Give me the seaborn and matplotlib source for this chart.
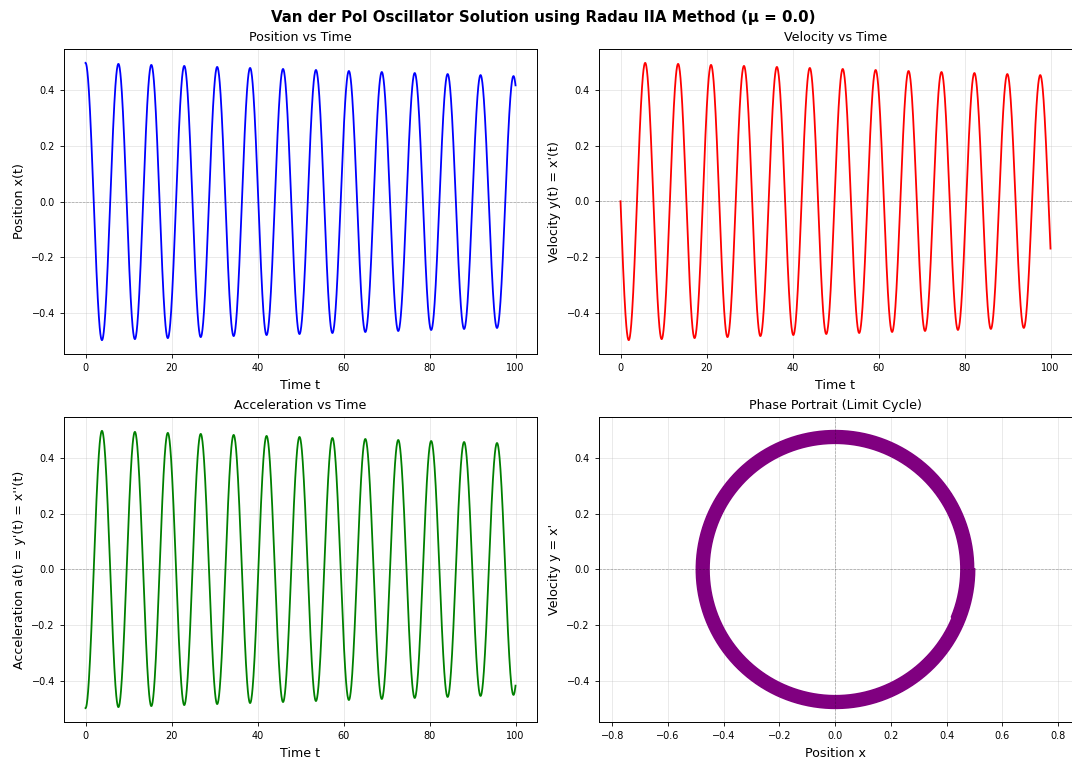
import numpy as np
import pandas as pd
import matplotlib
matplotlib.use("Agg")
import matplotlib.pyplot as plt
import seaborn as sns

# ---- values ----
# times (t) of the successive maxima of x(t) and their heights
peak_times = [0.0, 7.67, 15.35, 22.95, 30.62, 38.29, 45.89, 53.57,
              61.16, 68.84, 76.51, 84.19, 91.86, 99.53]
peak_values = [0.500, 0.496, 0.492, 0.489, 0.485, 0.480, 0.477, 0.473,
               0.469, 0.466, 0.462, 0.460, 0.456, 0.453]
t_range = [0.0, 100.0]
mu_value = 0.0

# ---- build the sampled solution from the read values ----
t = np.linspace(t_range[0], t_range[1], 2000)
n_cycles = len(peak_times) - 1
omega = 2 * np.pi * n_cycles / (peak_times[-1] - peak_times[0])
env = np.polyval(np.polyfit(peak_times, peak_values, 1), t)
pos = env * np.cos(omega * t)
vel = -env * np.sin(omega * t)
acc = -pos

df = pd.DataFrame({"t": t, "x": pos, "y": vel, "a": acc})

fig = plt.figure(figsize=(10.72, 7.58), dpi=100)
W, H = 473 / 1072, 305 / 758
ax1 = fig.add_axes([64 / 1072, 1 - 354 / 758, W, H])
ax2 = fig.add_axes([599 / 1072, 1 - 354 / 758, W, H])
ax3 = fig.add_axes([64 / 1072, 1 - 722 / 758, W, H])
ax4 = fig.add_axes([599 / 1072, 1 - 722 / 758, W, H])

title_fs = 9.1
label_fs = 9.1
tick_fs = 7.0
lw = 1.3

def style(ax, title, xlabel, ylabel):
    ax.set_title(title, fontsize=title_fs)
    ax.set_xlabel(xlabel, fontsize=label_fs)
    ax.set_ylabel(ylabel, fontsize=label_fs)
    ax.tick_params(labelsize=tick_fs, width=0.6, length=3)
    ax.grid(True, alpha=0.3, linewidth=0.6)
    for s in ax.spines.values():
        s.set_linewidth(0.7)
    ax.axhline(0, color="k", linestyle="--", alpha=0.3, linewidth=0.5)

sns.lineplot(data=df, x="t", y="x", ax=ax1, color="blue", linewidth=lw)
style(ax1, "Position vs Time", "Time t", "Position x(t)")

sns.lineplot(data=df, x="t", y="y", ax=ax2, color="red", linewidth=lw)
style(ax2, "Velocity vs Time", "Time t", "Velocity y(t) = x'(t)")

sns.lineplot(data=df, x="t", y="a", ax=ax3, color="green", linewidth=lw)
style(ax3, "Acceleration vs Time", "Time t", "Acceleration a(t) = y'(t) = x''(t)")

sns.lineplot(data=df, x="x", y="y", ax=ax4, color="purple", linewidth=1.5,
             sort=False, estimator=None)
style(ax4, "Phase Portrait (Limit Cycle)", "Position x", "Velocity y = x'")
ax4.axvline(0, color="k", linestyle="--", alpha=0.3, linewidth=0.5)
ax4.set_aspect("equal", adjustable="datalim")

fig.suptitle(f"Van der Pol Oscillator Solution using Radau IIA Method (μ = {mu_value})",
             fontsize=10.8, fontweight="bold", x=0.507, y=0.987, va="top")

fig.savefig("out.png", dpi=100)
